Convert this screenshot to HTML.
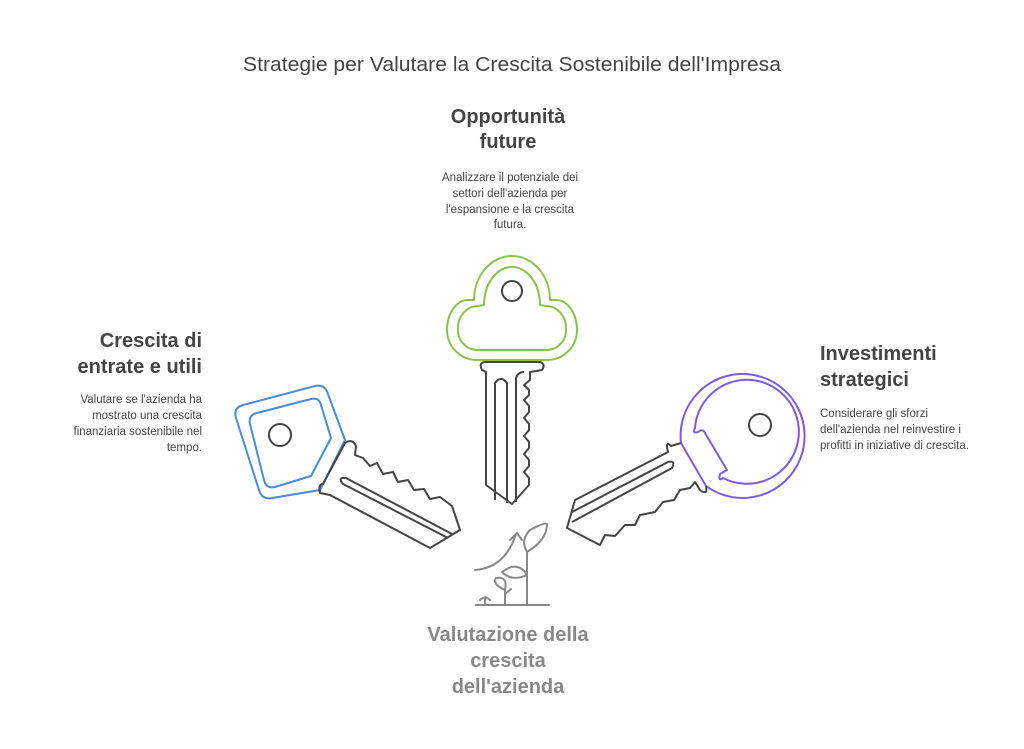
<!DOCTYPE html>
<html><head><meta charset="utf-8"><style>
body{margin:0;background:#fff;}
svg{display:block}
text{font-family:"Liberation Sans",sans-serif;}
.h{font-weight:bold;font-size:20px;fill:#444}
.p{font-size:11.5px;fill:#444}
</style></head><body>
<svg width="1024" height="749" viewBox="0 0 1024 749" xmlns="http://www.w3.org/2000/svg">
<text x="512" y="71" text-anchor="middle" font-size="20.5" fill="#444" textLength="538" lengthAdjust="spacingAndGlyphs">Strategie per Valutare la Crescita Sostenibile dell'Impresa</text>

<text class="h" x="508" y="123" text-anchor="middle">Opportunità</text>
<text class="h" x="508" y="148" text-anchor="middle">future</text>
<text class="p" x="510" y="181" text-anchor="middle">Analizzare il potenziale dei</text>
<text class="p" x="510" y="197" text-anchor="middle">settori dell'azienda per</text>
<text class="p" x="510" y="213" text-anchor="middle">l'espansione e la crescita</text>
<text class="p" x="510" y="228" text-anchor="middle">futura.</text>

<text class="h" x="202" y="347" text-anchor="end">Crescita di</text>
<text class="h" x="202" y="373" text-anchor="end">entrate e utili</text>
<text class="p" x="202" y="403" text-anchor="end">Valutare se l'azienda ha</text>
<text class="p" x="202" y="419" text-anchor="end">mostrato una crescita</text>
<text class="p" x="202" y="435" text-anchor="end">finanziaria sostenibile nel</text>
<text class="p" x="202" y="451" text-anchor="end">tempo.</text>

<text class="h" x="820" y="360">Investimenti</text>
<text class="h" x="820" y="386">strategici</text>
<text class="p" x="820" y="417">Considerare gli sforzi</text>
<text class="p" x="820" y="433">dell'azienda nel reinvestire i</text>
<text class="p" x="820" y="449">profitti in iniziative di crescita.</text>

<text class="h" x="508" y="641" text-anchor="middle" style="fill:#888">Valutazione della</text>
<text class="h" x="508" y="667" text-anchor="middle" style="fill:#888">crescita</text>
<text class="h" x="508" y="693" text-anchor="middle" style="fill:#888">dell'azienda</text>

<!-- top key -->
<g fill="none" stroke-width="2" stroke-linejoin="round">
<path d="M474,300 A38,44 0 0 1 550,300 L556,300 A21,30 0 0 1 577,330 A30,30 0 0 1 547,360 L477,360 A30,30 0 0 1 447,330 A21,30 0 0 1 468,300 Z" stroke="#8bc34a"/>
<path d="M484,305 A28,38 0 0 1 540,305 L546,306 A20,22 0 0 1 566,328 A20,20 0 0 1 546,350 L478,350 A20,20 0 0 1 458,328 A20,22 0 0 1 478,306 Z" stroke="#8bc34a"/>
<circle cx="512" cy="291" r="10" stroke="#444"/>
<path d="M486,372 L482,370 Q478,362 486,362 L540,362 Q546,364 542,370 L530,372 L530,380 L524,385 L529,390 L529,395 L524,400 L529,406 L529,412 L524,418 L529,424 L529,430 L524,436 L529,442 L529,448 L524,454 L529,460 L529,466 L524,472 L529,478 L529,485 L512,504 L486,485 Z" stroke="#444"/>
<path d="M495,500 L495,383 Q501,375 507,383 L507,503" stroke="#444"/>
<path d="M516,502 L516,378 Q518,372 524,372" stroke="#444"/>
</g>

<!-- left key -->
<g fill="none" stroke-width="2" stroke-linejoin="round">
<path d="M236,418 Q233,408 243,405 L315,386 Q325,384 328,394 L345,440 L320,490 L272,498 Q262,500 259,490 Z" stroke="#4a89dc"/>
<path d="M250,424 Q248,415 257,413 L311,399 Q319,397 321,405 L331,438 L311,476 L275,487 Q266,489 264,480 Z" stroke="#4a89dc"/>
<circle cx="280" cy="435" r="11" stroke="#444"/>
<path d="M345,443 Q352,438 356,446 L355,455 L363,458 L370,466 L377,463 L383,474 L393,472 L398,482 L408,480 L414,490 L424,489 L430,499 L440,497 L452,506 L460,530 L430,548 L330,495 L320,493 Q318,484 323,484 Z" stroke="#444"/>
<path d="M448,538 L343,484 Q337,477 346,478 L452,534" stroke="#444"/>
</g>

<!-- right key -->
<g fill="none" stroke-width="2" stroke-linejoin="round">
<path d="M681,443 A62,62 0 1 1 706,486" stroke="#7b5be6"/>
<path d="M681,443 L706,486" stroke="#7b5be6"/>
<path d="M695,428 A52,52 0 1 1 723,478 Q718,482 720,474 L727,470 L705,433 Q703,428 698,432 Q692,434 695,428 Z" stroke="#7b5be6"/>
<circle cx="760" cy="425" r="11" stroke="#444"/>
<path d="M681,443 L671,446 Q665,440 668,452 L575,500 L567,528 L600,545 L605,535 L615,536 L625,525 L635,525 L640,515 L655,512 L663,502 L674,500 L680,490 L690,488 L695,482 L700,490 Q708,496 706,486" stroke="#444"/>
<path d="M572,512 L668,462 Q676,460 672,468 L572,522" stroke="#444"/>
</g>

<!-- plant -->
<g fill="none" stroke="#888" stroke-width="2" stroke-linecap="round" stroke-linejoin="round">
<line x1="476" y1="605" x2="549" y2="605"/>
<path d="M475,570 Q505,568 516,534 M510,540 L517,533 L522,540"/>
<path d="M527,605 L527,552 M527,552 Q520,540 530,530 Q545,522 547,524 Q547,540 527,552"/>
<path d="M527,575 Q518,560 502,572 Q512,582 527,575"/>
<path d="M505,605 L505,590 Q492,584 496,578 Q508,576 505,590 M505,594 L511,589"/>
<path d="M480,600 Q485,595 490,600 M485,605 L485,597"/>
</g>
</svg>
</body></html>
